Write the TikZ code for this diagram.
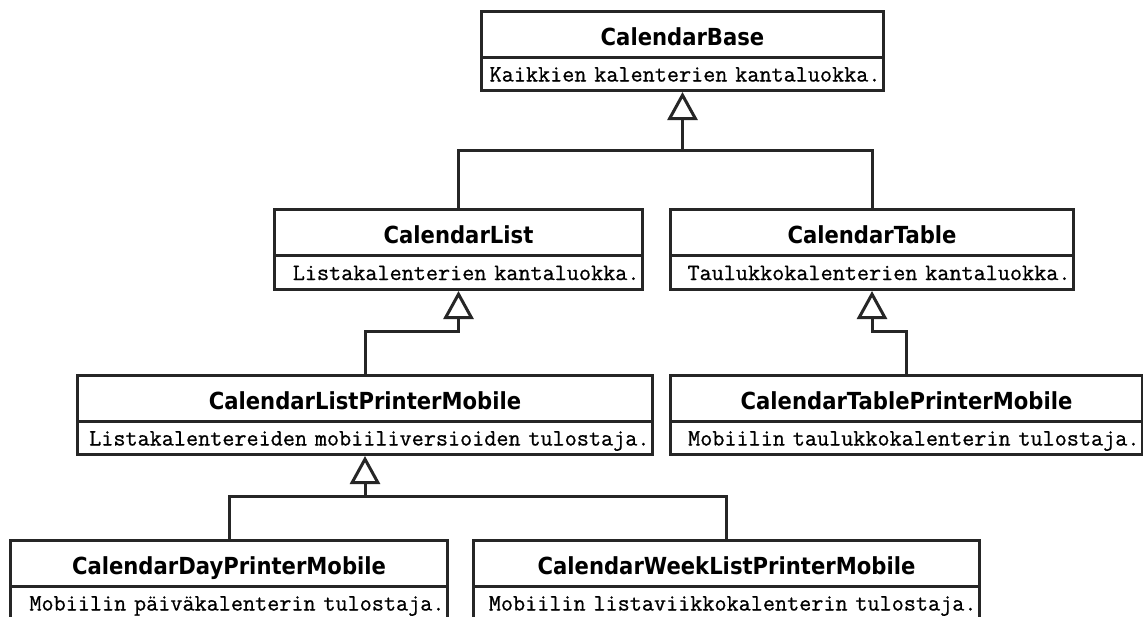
\documentclass[tikz,border=0pt]{standalone}
\usepackage{fontspec}
\newfontfamily\titlefont{DejaVu Sans Bold}[FakeStretch=0.9]
\newfontfamily\descfont{Latin Modern Mono}[FakeBold=0.8]
\usetikzlibrary{arrows.meta}
\definecolor{linec}{HTML}{262626}
\tikzset{
  classhead/.style={draw=linec, line width=3pt, fill=white, anchor=north west,
    inner sep=0pt, font=\titlefont\fontsize{23.5}{28}\selectfont,
    text height=22pt, text depth=0pt},
  classbody/.style={draw=linec, line width=3pt, fill=white, anchor=north west,
    inner xsep=3pt, inner ysep=0pt, font=\descfont\fontsize{23.5}{28}\selectfont,
    align=right, text height=15pt, text depth=0pt},
  inh/.style={draw=linec, line width=3pt, line join=miter,
    -{Triangle[open,length=28pt,width=30pt]}},
  plainlink/.style={draw=linec, line width=3pt},
}
% #1 name, #2 left, #3 right, #4 top, #5 divider, #6 bottom, #7 title, #8 description
\newcommand\umlclass[8]{%
  \pgfmathsetmacro\cw{#3-#2}%
  \pgfmathsetmacro\chh{#5-#4}%
  \pgfmathsetmacro\cbh{#6-#5}%
  \pgfmathsetmacro\ctw{#3-#2-6}%
  \node[classhead, minimum width=\cw pt, minimum height=\chh pt] (#1) at (#2,#4) {#7};
  \node[classbody, minimum width=\cw pt, minimum height=\cbh pt, text width=\ctw pt] (#1-b) at (#2,#5) {#8};
}
\begin{document}
\begin{tikzpicture}[x=1pt,y=-1pt]
\useasboundingbox (0,0) rectangle (1143,616);
\fill[white] (0,0) rectangle (1143,616);
\clip (0,0) rectangle (1143,616);

\umlclass{base}{480}{882}{10}{56}{89}{CalendarBase}{Kaikkien kalenterien kantaluokka.}
\umlclass{list}{273}{641}{208}{254}{288}{CalendarList}{Listakalenterien kantaluokka.}
\umlclass{table}{669}{1072}{208}{254}{288}{CalendarTable}{Taulukkokalenterien kantaluokka.}
\umlclass{clpm}{76}{651}{374}{420}{453}{CalendarListPrinterMobile}{Listakalentereiden mobiiliversioiden tulostaja.}
\umlclass{ctpm}{669}{1141}{374}{420}{453}{CalendarTablePrinterMobile}{Mobiilin taulukkokalenterin tulostaja.}
\umlclass{cdpm}{9}{446}{539}{585}{618}{CalendarDayPrinterMobile}{Mobiilin päiväkalenterin tulostaja.}
\umlclass{cwlpm}{472}{978}{539}{585}{618}{CalendarWeekListPrinterMobile}{Mobiilin listaviikkokalenterin tulostaja.}

\coordinate (j1) at (0,150);
\coordinate (j2) at (0,331);
\coordinate (j3) at (0,496);

\draw[inh] (list.north) -- (list.north |- j1) -- (base-b.south |- j1) -- (base-b.south);
\draw[plainlink] (table.north) -- (table.north |- j1) -- (base-b.south |- j1);

\draw[inh] (clpm.north) -- (clpm.north |- j2) -- (list-b.south |- j2) -- (list-b.south);
\draw[inh] (ctpm.north) -- (ctpm.north |- j2) -- (table-b.south |- j2) -- (table-b.south);

\draw[inh] (cdpm.north) -- (cdpm.north |- j3) -- (clpm-b.south |- j3) -- (clpm-b.south);
\draw[plainlink] (cwlpm.north) -- (cwlpm.north |- j3) -- (clpm-b.south |- j3);
\end{tikzpicture}
\end{document}
